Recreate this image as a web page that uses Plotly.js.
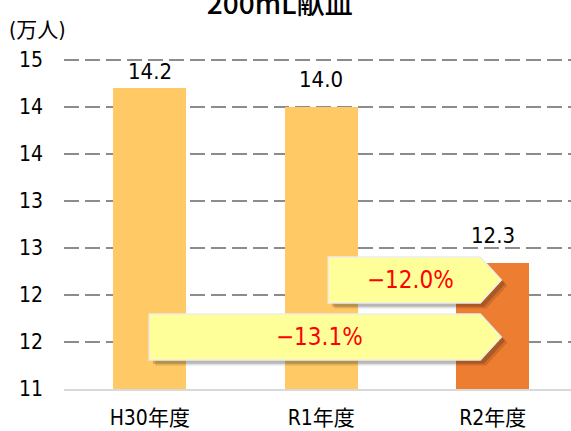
<!DOCTYPE html>
<html>
<head>
<meta charset="utf-8">
<script src="https://cdn.plot.ly/plotly-3.0.1.min.js"></script>
<style>html,body{margin:0;padding:0;background:#fff;}#chart{width:571px;height:431px;}</style>
</head>
<body>
<div id="chart"></div>
<script>
// ---- data ----
const categories = ["H30年度", "R1年度", "R2年度"];
const values = [14.2, 14.0, 12.34];
const valueLabels = ["14.2", "14.0", "12.3"];
const barColors = ["#FFC966", "#FFC966", "#ED7D31"];
const yTickVals = [11, 11.5, 12, 12.5, 13, 13.5, 14, 14.5];
const yTickText = ["11", "12", "12", "13", "13", "14", "14", "15"];
const changeLabels = ["−12.0%", "−13.1%"];   // R1→R2, H30→R2
const titleText = "200mL献血";
const unitText = "(万人)";

// ---- styling ----
const FONT = "'DejaVu Sans Condensed', 'DejaVu Sans', 'Noto Sans CJK JP', sans-serif";
const CJK = "'DejaVu Sans Condensed', 'Noto Sans CJK JP', sans-serif";

const labelShift = [2, 13, 13];

// arrow call-outs (decoration), in axis units
const arrows = [
  {x0: 1.041, xb: 1.927, xt: 2.050, y0: 11.915, y1: 12.404, tx: 1.52, text: changeLabels[0]},
  {x0: -0.003, xb: 1.927, xt: 2.050, y0: 11.309, y1: 11.798, tx: 0.99, text: changeLabels[1]}
];
function pent(a, dx, dy) {
  const ym = (a.y0 + a.y1) / 2;
  return `M${a.x0+dx},${a.y0+dy} L${a.x0+dx},${a.y1+dy} L${a.xb+dx},${a.y1+dy} L${a.xt+dx},${ym+dy} L${a.xb+dx},${a.y0+dy} Z`;
}
const shapes = [];
arrows.forEach(a => {
  shapes.push({type: "path", xref: "x", yref: "y", layer: "above", path: pent(a, 0.035, -0.06),
               fillcolor: "rgba(0,0,0,0.12)", line: {width: 0}});
  shapes.push({type: "path", xref: "x", yref: "y", layer: "above", path: pent(a, 0.022, -0.04),
               fillcolor: "rgba(0,0,0,0.18)", line: {width: 0}});
  shapes.push({type: "path", xref: "x", yref: "y", layer: "above", path: pent(a, 0, 0),
               fillcolor: "#FFFF99", line: {color: "#EDEDED", width: 1.5}});
});

const annotations = [];
categories.forEach((c, i) => {
  annotations.push({x: i, y: values[i], xref: "x", yref: "y", text: valueLabels[i],
    showarrow: false, yanchor: "bottom", yshift: labelShift[i],
    font: {family: FONT, size: 22, color: "#000"}});
});
arrows.forEach(a => {
  annotations.push({x: a.tx, y: (a.y0 + a.y1) / 2, xref: "x", yref: "y", text: a.text,
    showarrow: false, xanchor: "center", yanchor: "middle",
    font: {family: FONT, size: 24, color: "#FF0000"}});
});
annotations.push({x: (7 - 64) / 507, y: 1 + (58 - 30) / 331, xref: "paper", yref: "paper", text: unitText,
  showarrow: false, xanchor: "left", yanchor: "middle",
  font: {family: CJK, size: 21, color: "#000"}});

const trace = {
  type: "bar",
  x: categories.map((c, i) => i),
  y: values,
  marker: {color: barColors, line: {width: 0}},
  width: 0.426,
  hoverinfo: "skip"
};

const layout = {
  width: 571, height: 431,
  margin: {l: 64, r: 0, t: 58, b: 42, pad: 0},
  paper_bgcolor: "#fff", plot_bgcolor: "#fff",
  showlegend: false,
  title: {text: titleText, x: 0.49, xanchor: "center", yref: "container", y: 1 - 14/431, yanchor: "bottom",
          font: {family: "'Noto Sans CJK JP', sans-serif", size: 28, color: "#000", weight: 500}},
  xaxis: {
    type: "linear", range: [-0.5, 2.456], tickvals: categories.map((c, i) => i), ticktext: categories,
    showgrid: false, zeroline: false, showline: true, linecolor: "#D9D9D9", linewidth: 1.5,
    ticks: "", ticklabelstandoff: 9, tickfont: {family: CJK, size: 21, color: "#000"}, fixedrange: true
  },
  yaxis: {
    range: [11, 14.52], tickvals: yTickVals, ticktext: yTickText,
    showgrid: true, gridcolor: "#8C8C8C", gridwidth: 1.5, griddash: "15px,6px",
    zeroline: false, showline: false, ticks: "", ticklabelstandoff: 20,
    tickfont: {family: FONT, size: 21, color: "#000"}, fixedrange: true
  },
  shapes: shapes,
  annotations: annotations,
  bargap: 0
};

Plotly.newPlot("chart", [trace], layout, {displayModeBar: false, staticPlot: true});
</script>
</body>
</html>
